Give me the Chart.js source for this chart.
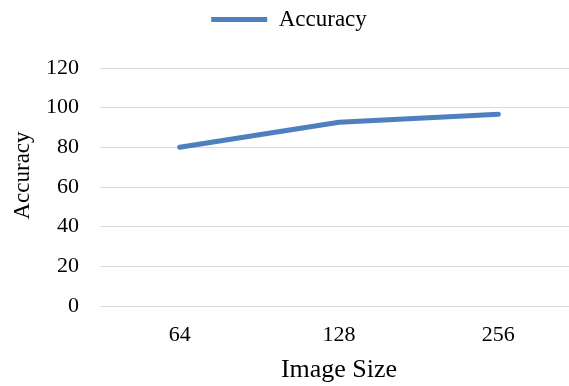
<!DOCTYPE html>
<html>
<head>
<meta charset="utf-8">
<script src="https://cdn.jsdelivr.net/npm/chart.js@4"></script>
<style>
  html, body { margin: 0; padding: 0; background: #fff; overflow: hidden; }
  #wrap { width: 580px; height: 386px; }
</style>
</head>
<body>
<div id="wrap"><canvas id="c" width="580" height="386"></canvas></div>
<script>
// Accuracy by input image size
const imageSizes = ['64', '128', '256'];
const accuracy = [80.0, 92.6, 96.7];
const yTicks = [0, 20, 40, 60, 80, 100, 120];

const serif = "'Liberation Serif', 'Times New Roman', serif";
const lineColor = '#4E7FBF';

// Leave extra room between the legend row and the plot area
const legendSpacer = {
  id: 'legendSpacer',
  beforeLayout(chart) {
    const lg = chart.legend;
    if (lg && !lg._spaced) {
      lg._spaced = true;
      const baseFit = lg.fit.bind(lg);
      lg.fit = function () { baseFit(); this.height += 27; };
    }
  }
};

new Chart(document.getElementById('c'), {
  type: 'line',
  data: {
    labels: imageSizes,
    datasets: [{
      label: 'Accuracy',
      data: accuracy,
      borderColor: lineColor,
      backgroundColor: lineColor,
      borderWidth: 5,
      borderCapStyle: 'round',
      borderJoinStyle: 'round',
      pointRadius: 0,
      pointHoverRadius: 0,
      pointStyle: 'line',
      tension: 0,
      fill: false
    }]
  },
  plugins: [legendSpacer],
  options: {
    responsive: false,
    animation: false,
    layout: { padding: { top: 0, right: 2, bottom: 0, left: 0 } },
    plugins: {
      tooltip: { enabled: false },
      legend: {
        position: 'top',
        labels: {
          usePointStyle: true,
          pointStyleWidth: 56,
          padding: 8,
          color: '#000',
          font: { family: serif, size: 23 }
        }
      }
    },
    scales: {
      x: {
        offset: true,
        grid: { display: false, drawTicks: false },
        border: { display: true, color: '#d9d9d9', width: 1 },
        ticks: { color: '#000', font: { family: serif, size: 22 }, padding: 16 },
        title: {
          display: true, text: 'Image Size', color: '#000',
          font: { family: serif, size: 26 }, padding: { top: 4, bottom: 0 }
        },
        afterFit: (s) => { s.height = 80; }
      },
      y: {
        min: 0, max: 120,
        afterBuildTicks: (s) => { s.ticks = yTicks.map(v => ({ value: v })); },
        grid: { color: '#d9d9d9', lineWidth: 1, drawTicks: false },
        border: { display: false },
        ticks: { color: '#000', font: { family: serif, size: 22 }, padding: 21 },
        title: {
          display: true, text: '    Accuracy', color: '#000',
          font: { family: serif, size: 23 }, padding: { top: 9, bottom: 0 }
        },
        afterFit: (s) => { s.width = 100; }
      }
    }
  }
});
</script>
</body>
</html>
